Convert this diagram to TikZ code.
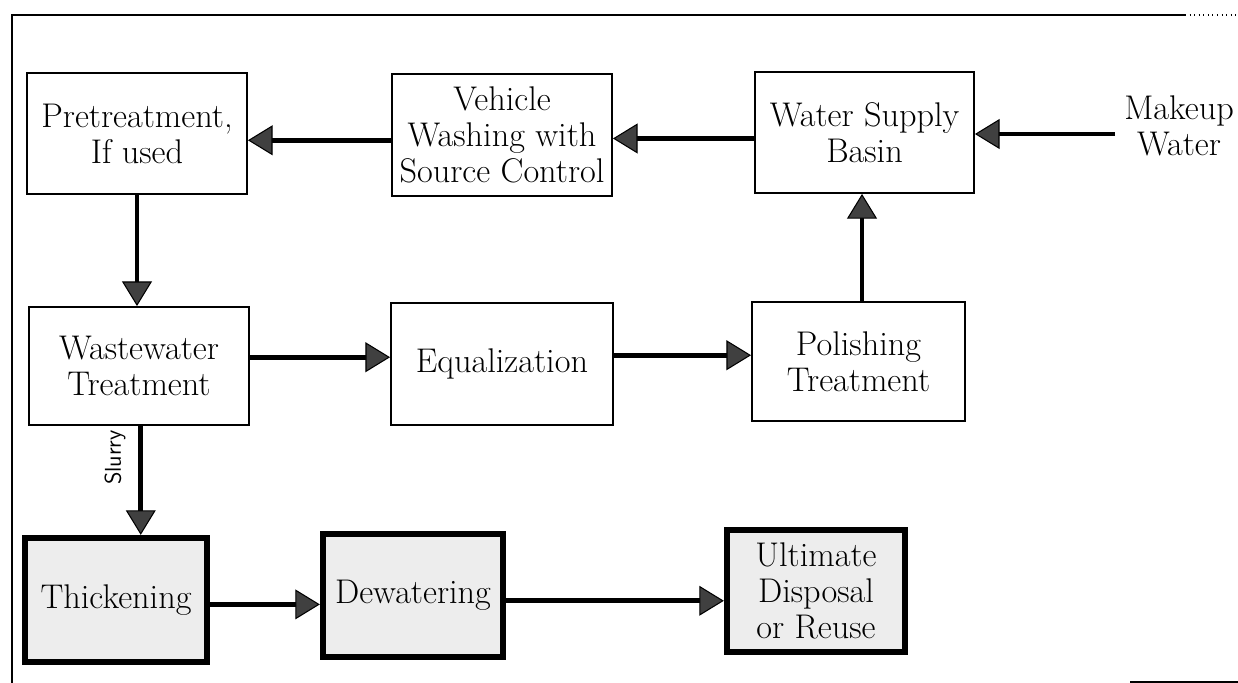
\documentclass[tikz,border=0pt]{standalone}
\usepackage{fontspec}
\usetikzlibrary{arrows.meta,calc}
\tikzset{
  box/.style={draw=black, line width=1.1pt, fill=white, align=center, inner sep=1pt,
    font=\fontsize{19.5}{20.5}\selectfont},
  heavybox/.style={draw=black, line width=3.6pt, fill=black!7, align=center, inner sep=1pt,
    font=\fontsize{19.5}{20.5}\selectfont},
  flow/.style={line width=2.8pt, -{Triangle[length=14pt,width=17pt,line width=0.6pt,fill=black!75]}},
  framerule/.style={line width=1.2pt, line cap=rect}
}
\begin{document}
\begin{tikzpicture}[x=0.02cm,y=-0.02cm]
\useasboundingbox (0,0) rectangle (1238,683);
% outer frame fragments
\coordinate (fa) at (12,683);
\coordinate (fb) at (12,15);
\coordinate (fc) at (1185,15);
\coordinate (fg) at (1238,15);
\coordinate (fd) at (1130,682);
\coordinate (fe) at (1238,682);
\draw[framerule] (fa) -- (fb) -- (fc);
\draw[line width=0.6pt, dotted] (fc) -- (fg);
\draw[line width=1.2pt] (fd) -- (fe);

% top row
\node[box, minimum width=4.4cm, minimum height=2.42cm] (pre) at (137,133.5) {Pretreatment,\\If used};
\node[box, minimum width=4.4cm, minimum height=2.44cm] (veh) at (502,135) {Vehicle\\Washing with\\Source Control};
\node[box, minimum width=4.38cm, minimum height=2.42cm] (wsb) at (864.5,132.5) {Water Supply\\Basin};
\node[font=\fontsize{19.5}{20.5}\selectfont, align=center, inner sep=0pt] (mkw) at (1179,126) {Makeup\\Water};
\coordinate (mk) at (1115,134);

% middle row
\node[box, minimum width=4.4cm, minimum height=2.36cm] (ww) at (139,366) {Wastewater\\Treatment};
\node[box, minimum width=4.44cm, minimum height=2.44cm] (eq) at (502,364) {Equalization};
\node[box, minimum width=4.26cm, minimum height=2.38cm] (pol) at (858.5,361.5) {Polishing\\Treatment};

% bottom row
\node[heavybox, minimum width=3.64cm, minimum height=2.48cm] (thk) at (116,600) {Thickening};
\node[heavybox, minimum width=3.6cm, minimum height=2.46cm] (dew) at (413,595.5) {Dewatering};
\node[heavybox, minimum width=3.56cm, minimum height=2.44cm] (ult) at (816,591) {Ultimate\\Disposal\\or Reuse};

% connectors
\draw[flow] (mk) -- (mk -| wsb.east);
\draw[flow] ([yshift=-3.4pt]wsb.west) -- ([yshift=-3.4pt]wsb.west -| veh.east);
\draw[flow] ([yshift=-3pt]veh.west) -- ([yshift=-3pt]veh.west -| pre.east);
\draw[flow] (pre.south) -- (pre.south |- ww.north);
\draw[flow] ([yshift=5pt]ww.east) -- ([yshift=5pt]ww.east -| eq.west);
\draw[flow] ([yshift=5pt]eq.east) -- ([yshift=5pt]eq.east -| pol.west);
\draw[flow] ([xshift=2pt]pol.north) -- ([xshift=2pt]pol.north |- wsb.south);
\draw[flow] ([xshift=1pt]ww.south) -- ([xshift=1pt]ww.south |- thk.north)
  node[pos=0.29, rotate=90, anchor=south, font=\sffamily\fontsize{13}{15}\selectfont, yshift=4pt] (sl) {Slurry};
\draw[flow] ([yshift=-2.5pt]thk.east) -- ([yshift=-2.5pt]thk.east -| dew.west);
\draw[flow] ([yshift=-3pt]dew.east) -- ([yshift=-3pt]dew.east -| ult.west);
\end{tikzpicture}
\end{document}
